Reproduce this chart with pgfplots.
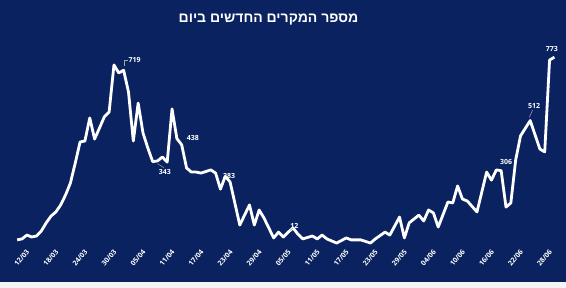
\documentclass[border=0pt]{standalone}
\usepackage{fontspec}
\setmainfont{Open Sans}
\newfontfamily\hebfont[Script=Hebrew]{Liberation Sans}
\TeXXeTstate=1
\usepackage{pgfplots}
\pgfplotsset{compat=1.18}
\definecolor{bg}{RGB}{11,34,97}
\begin{document}
\begin{tikzpicture}[x=1pt,y=1pt]
\useasboundingbox (0,0) rectangle (566,288);
\fill[white!92!gray] (0,0) rectangle (566,6);
\fill[bg] (0,6) rectangle (566,288);
\node[text=white, font=\hebfont\bfseries\fontsize{14}{17}\selectfont] at (268.5,268) {\beginR מספר המקרים החדשים ביום\endR};
\begin{axis}[
  at={(17.16pt,43pt)}, anchor=south west,
  scale only axis, width=537.24pt, height=194.4pt,
  xmin=-1, xmax=110, ymin=0, ymax=800,
  clip=false,
  axis line style={draw=none},
  tick style={draw=none},
  ytick=\empty,
  xtick={0,6,...,108},
  xticklabels={12/03,18/03,24/03,30/03,05/04,11/04,17/04,23/04,29/04,05/05,11/05,17/05,23/05,29/05,04/06,10/06,16/06,22/06,28/06},
  xticklabel style={rotate=50, anchor=north east, text=white, font=\bfseries\fontsize{7}{8}\selectfont, inner sep=0.5pt, yshift=-5pt},
]
\addplot[white, line width=2.8pt, line join=round] coordinates {
(-1,21)(0,25)(1,41)(2,33)(3,37)(4,58)(5,91)(6,119)(7,136)(8,165)(9,206)(10,255)(11,337)(12,424)(13,428)(14,523)(15,436)(16,481)(17,527)(18,547)(19,741)(20,708)(21,719)(22,630)(23,428)(24,584)(25,461)(26,399)(27,343)(28,346)(29,362)(30,341)(31,560)(32,438)(33,412)(34,317)(35,300)(36,300)(37,296)(39,309)(40,296)(41,230)(42,283)(43,259)(45,82)(47,165)(48,82)(49,144)(50,111)(52,29)(53,53)(54,33)(55,53)(56,70)(57,45)(58,25)(60,37)(61,25)(62,41)(63,25)(65,8)(67,29)(68,21)(70,21)(72,8)(73,25)(75,53)(76,41)(78,115)(79,29)(80,91)(82,123)(83,99)(84,144)(85,132)(86,74)(88,177)(89,173)(90,243)(91,189)(92,181)(94,136)(96,300)(97,267)(98,309)(99,306)(100,156)(101,173)(102,350)(103,449)(105,512)(107,395)(108,383)(109,761)(110,773)
};
\tikzset{lbl/.style={text=white, font=\bfseries\fontsize{7}{8}\selectfont, inner sep=0.5pt}}
\draw[gray!70, line width=0.5pt] (axis cs:21.2,735) -- (axis cs:21.2,761) -- (axis cs:21.9,761);
\node[lbl, anchor=west] at (axis cs:21.9,761) {719};
\node[lbl] at (axis cs:35.3,440) {438};
\draw[gray!70, line width=0.5pt] (axis cs:28,335) -- (axis cs:29.3,318);
\node[lbl] at (axis cs:29.5,300) {343};
\node[lbl] at (axis cs:42.8,284) {283};
\draw[gray!70, line width=0.5pt] (axis cs:55.3,58) -- (axis cs:56,70);
\node[lbl] at (axis cs:56.3,80) {12};
\node[lbl] at (axis cs:100,342) {306};
\draw[gray!70, line width=0.5pt] (axis cs:104.8,525) -- (axis cs:105.5,555);
\node[lbl] at (axis cs:105.8,572) {512};
\node[lbl] at (axis cs:109.5,807) {773};
\end{axis}
\end{tikzpicture}
\end{document}
